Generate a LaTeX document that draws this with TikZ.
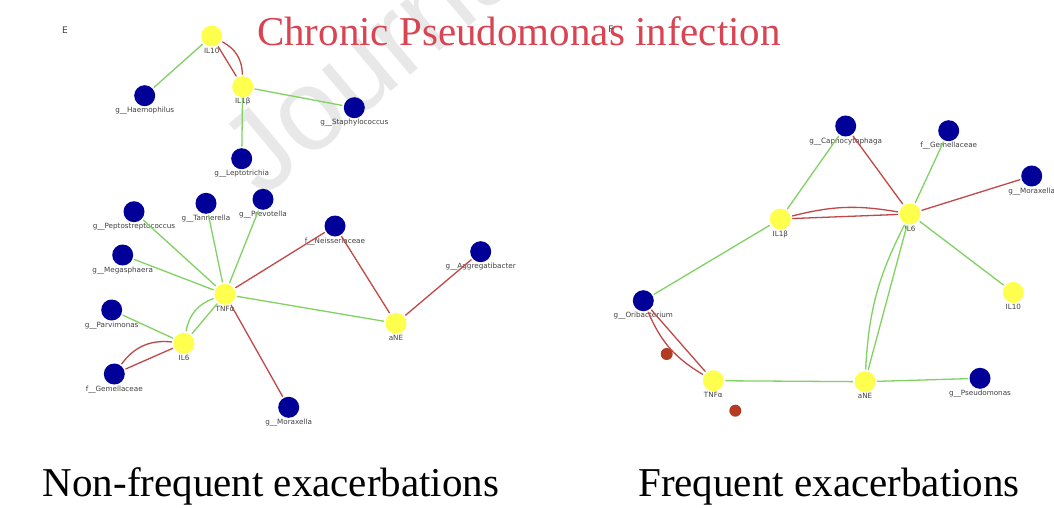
\documentclass[tikz,border=0pt]{standalone}
\usepackage{fontspec}
\setmainfont{Liberation Serif}
\newfontfamily\lblfont{DejaVu Sans}
\newfontfamily\wmfont{Liberation Sans}
\definecolor{taxonblue}{HTML}{000099}
\definecolor{cytoyellow}{HTML}{FFFF4D}
\definecolor{posgreen}{HTML}{80D262}
\definecolor{negred}{HTML}{C04848}
\definecolor{titlered}{HTML}{D94452}
\definecolor{dotred}{HTML}{B53A22}
\begin{document}
\begin{tikzpicture}[x=1pt, y=-1pt, line join=round, line cap=round,
    taxon/.style={circle, fill=taxonblue, minimum size=21pt, inner sep=0pt, outer sep=2pt},
    cyto/.style={circle, fill=cytoyellow, minimum size=21pt, inner sep=0pt, outer sep=2pt},
    every label/.style={font=\lblfont\fontsize{7.2}{8}\selectfont, text=black!75, inner sep=0.5pt},
    label distance=-1.5pt,
    posedge/.style={draw=posgreen, line width=1.3pt},
    negedge/.style={draw=negred, line width=1.3pt},
    caption/.style={font=\fontsize{41}{44}\selectfont, anchor=base, inner sep=0pt},
    panel/.style={font=\lblfont\fontsize{9}{10}\selectfont, text=black!75}]
    \path[fill=white, use as bounding box] (0,0) rectangle (1054,508);
    % watermark
    \node[font=\wmfont\fontsize{115}{115}\selectfont, text=black!9, rotate=40, anchor=base west, inner sep=0pt] (wm) at (262,200) {Journal Pre-proof};
    % titles
    \node[caption, text=titlered] (title) at (519,46) {Chronic Pseudomonas infection};
    \node[caption] (nonfreq) at (271,496) {Non-frequent exacerbations};
    \node[caption] (freq) at (829,496) {Frequent exacerbations};
    \node[panel] (panelE) at (65,30) {E};
    \node[panel] (panelF) at (611,29) {F};
    % E: non-frequent
    \node[cyto, label=below:IL10] (lIL10) at (211.7,36) {};
    \node[cyto, label=below:IL1β] (lIL1b) at (242.7,86.7) {};
    \node[cyto, label=below:TNFα] (lTNFa) at (225,294.3) {};
    \node[cyto, label=below:aNE] (laNE) at (396,323.3) {};
    \node[cyto, label=below:IL6] (lIL6) at (184,343.3) {};
    \foreach \n/\p/\t in {lHae/{144.7,95.7}/g\_\_Haemophilus, lSta/{354.3,107.7}/g\_\_Staphylococcus,
        lLep/{241.7,158.7}/g\_\_Leptotrichia, lPep/{134,211.7}/g\_\_Peptostreptococcus,
        lTan/{206,203.3}/g\_\_Tannerella, lPre/{263,199.3}/g\_\_Prevotella,
        lNei/{335,226}/f\_\_Neisseriaceae, lAgg/{480.7,251.7}/g\_\_Aggregatibacter,
        lMeg/{122.7,255}/g\_\_Megasphaera, lPar/{111.7,310}/g\_\_Parvimonas,
        lGem/{114.3,374}/f\_\_Gemellaceae, lMor/{288.7,407.3}/g\_\_Moraxella}
        \node[taxon, label=below:\t] (\n) at (\p) {};
    \foreach \a/\b in {lIL10/lHae, lIL1b/lSta, lIL1b/lLep, lTNFa/lPep, lTNFa/lTan, lTNFa/lPre,
        lTNFa/lMeg, lTNFa/laNE, lIL6/lTNFa, lIL6/lPar}
        \draw[posedge] (\a) -- (\b);
    \draw[posedge] (lIL6) to[bend left=30] (lTNFa);
    \foreach \a/\b in {lIL10/lIL1b, lTNFa/lNei, lNei/laNE, laNE/lAgg, lIL6/lGem, lTNFa/lMor}
        \draw[negedge] (\a) -- (\b);
    \draw[negedge] (lIL10) to[bend left=30] (lIL1b);
    \draw[negedge] (lIL6) to[bend right=30] (lGem);
    % F: frequent
    \node[cyto, label=below:IL1β] (rIL1b) at (780.3,219) {};
    \node[cyto, label=below:IL6] (rIL6) at (910,214) {};
    \node[cyto, label=below:IL10] (rIL10) at (1013.3,292.5) {};
    \node[cyto, label=below:TNFα] (rTNFa) at (713.3,380.7) {};
    \node[cyto, label=below:aNE] (raNE) at (865,381.7) {};
    \foreach \n/\p/\t in {rCap/{845.7,126}/g\_\_Capnocytophaga, rGem/{948.7,130.7}/f\_\_Gemellaceae,
        rMor/{1031.7,176}/g\_\_Moraxella, rOri/{643.3,300.7}/g\_\_Oribacterium,
        rPse/{980,378.3}/g\_\_Pseudomonas}
        \node[taxon, label=below:\t] (\n) at (\p) {};
    \node[circle, fill=dotred, minimum size=12pt, inner sep=0pt] (dotA) at (666.7,354) {};
    \node[circle, fill=dotred, minimum size=12pt, inner sep=0pt] (dotB) at (735.3,410.7) {};
    \foreach \a/\b in {rIL1b/rCap, rIL6/rGem, rIL1b/rOri, rIL6/rIL10, rIL6/raNE, rTNFa/raNE, raNE/rPse}
        \draw[posedge] (\a) -- (\b);
    \draw[posedge] (rIL6) to[bend right=12] (raNE);
    \foreach \a/\b in {rCap/rIL6, rIL6/rMor, rIL1b/rIL6, rOri/rTNFa}
        \draw[negedge] (\a) -- (\b);
    \draw[negedge] (rIL1b) to[bend left=12] (rIL6);
    \draw[negedge] (rOri) to[bend right=18] (rTNFa);
\end{tikzpicture}
\end{document}
